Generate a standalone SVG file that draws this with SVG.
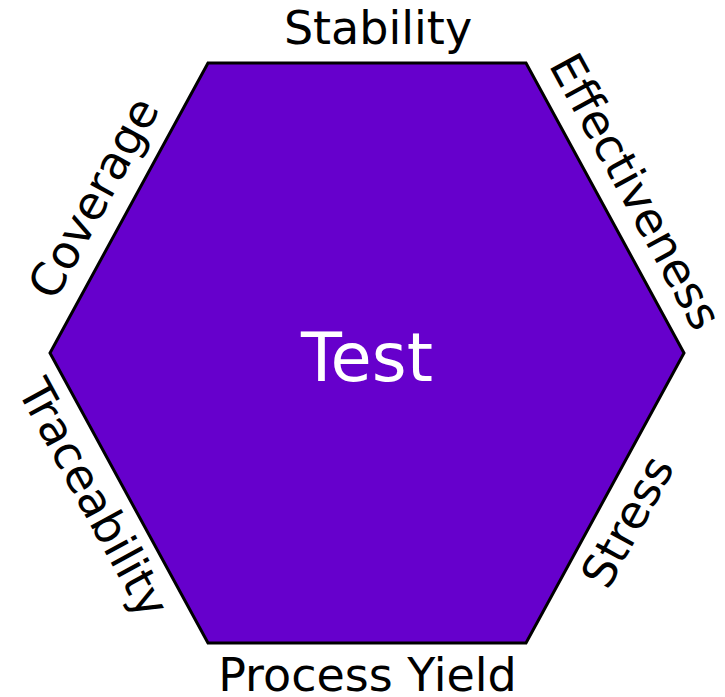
<svg xmlns="http://www.w3.org/2000/svg" width="725" height="697" viewBox="0 0 725 697">
<style>
.lbl{font-family:"DejaVu Sans",Verdana,sans-serif;font-size:46px;fill:#000;text-anchor:middle}
.hex{fill:#6600CC;stroke:#000;stroke-width:3;stroke-linejoin:miter}
.ttl{font-family:"DejaVu Sans",Verdana,sans-serif;font-size:67px;fill:#fff;text-anchor:middle}
</style>
<rect width="725" height="697" fill="#fff"/>
<g id="hexagon">
<polygon class="hex" points="208,63 526,63 684,353 526,643 208,643 50,353"/>
<text class="ttl" x="367" y="381">Test</text>
</g>
<g id="labels">
<text id="stability" class="lbl" x="378" y="44">Stability</text>
<text id="process-yield" class="lbl" x="367.5" y="691">Process Yield</text>
<text id="effectiveness" class="lbl" transform="translate(621.6,199) rotate(61.4)">Effectiveness</text>
<text id="coverage" class="lbl" transform="translate(107.6,205.4) rotate(-61.4)">Coverage</text>
<text id="stress" class="lbl" transform="translate(641.5,529.3) rotate(-61.4)">Stress</text>
<text id="traceability" class="lbl" transform="translate(79.6,505.6) rotate(61.4)">Traceability</text>
</g>
</svg>
